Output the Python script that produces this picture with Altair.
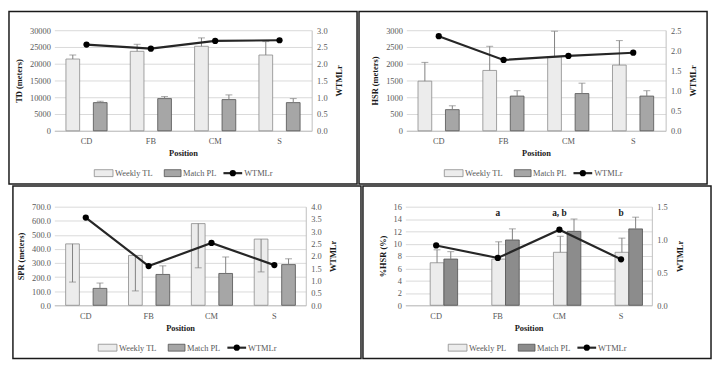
import altair as alt
import pandas as pd

positions = ["CD", "FB", "CM", "S"]

# Panel 1: TD
td_weekly = [21400, 23700, 25200, 22600]
td_weekly_err = [22600, 25800, 27700, 26600]
td_match = [8400, 9600, 9300, 8400]
td_match_err = [8800, 10200, 10700, 9600]
td_ratio = [2.57, 2.45, 2.68, 2.70]

# Panel 2: HSR
hsr_weekly = [1480, 1800, 2210, 1960]
hsr_weekly_err = [2040, 2520, 2970, 2690]
hsr_match = [630, 1035, 1110, 1035]
hsr_match_err = [745, 1195, 1420, 1195]
hsr_ratio = [2.35, 1.76, 1.86, 1.94]

# Panel 3: SPR
spr_weekly = [436, 354, 580, 470]
spr_weekly_err = [165, 102, 266, 237]
spr_match = [120, 219, 226, 289]
spr_match_err = [158, 280, 343, 330]
spr_ratio = [3.56, 1.59, 2.53, 1.63]

# Panel 4: %HSR
phsr_weekly = [6.9, 7.5, 8.6, 8.6]
phsr_weekly_err = [9.0, 10.3, 11.2, 10.9]
phsr_match = [7.5, 10.6, 12.0, 12.4]
phsr_match_err = [8.7, 12.4, 14.0, 14.3]
phsr_ratio = [0.91, 0.72, 1.15, 0.70]

sig_positions = ["FB", "CM", "S"]
sig_labels = ["a", "a, b", "b"]
sig_y = [15, 15, 15]

FONT = "Liberation Serif, Times New Roman, serif"
FS = 8.5
WEEK_FILL = "#ececec"
WEEK_STROKE = "#8a8a8a"
MATCH_STROKE = "#505050"

dummy = pd.DataFrame({"k": [0]})


def panel(weekly, weekly_err, match, match_err, ratio, weekly_name, left_title,
          left_ticks, left_fmt, right_ticks, dims, match_fill, annot=None):
    L, W, R, T, H, B = dims
    rows = []
    for i, p in enumerate(positions):
        rows.append({"Position": p, "Series": weekly_name, "Value": weekly[i],
                     "Err": weekly_err[i], "fill": WEEK_FILL, "stroke": WEEK_STROKE})
        rows.append({"Position": p, "Series": "Match PL", "Value": match[i],
                     "Err": match_err[i], "fill": match_fill, "stroke": MATCH_STROKE})
    bars_df = pd.DataFrame(rows)
    line_df = pd.DataFrame({"Position": positions, "WTMLr": ratio})

    x = alt.X("Position:N", sort=positions,
              scale=alt.Scale(paddingInner=0.36, paddingOuter=0.18),
              axis=alt.Axis(title="Position", labelAngle=0, ticks=False,
                            domainColor="#bfbfbf", labelPadding=6, titlePadding=4,
                            titleFontWeight="bold"))
    xo = alt.XOffset("Series:N", sort=[weekly_name, "Match PL"],
                     scale=alt.Scale(paddingInner=0, paddingOuter=0))
    lscale = alt.Scale(domain=[left_ticks[0], left_ticks[-1]], nice=False)
    laxis = alt.Axis(title=left_title, values=left_ticks, format=left_fmt, grid=True,
                     gridColor="#d9d9d9", domain=False, ticks=False, labelPadding=4,
                     titleFontWeight="bold", titlePadding=6)
    rscale = alt.Scale(domain=[right_ticks[0], right_ticks[-1]], nice=False)
    raxis = alt.Axis(title="WTMLr", orient="right", values=right_ticks, format=".1f",
                     grid=False, domain=True, domainColor="#bfbfbf", ticks=False,
                     labelPadding=5, titleFontWeight="bold", titleAngle=270,
                     titleBaseline="top", titlePadding=8)

    bars = alt.Chart(bars_df).mark_bar(strokeWidth=0.8).encode(
        x=x, xOffset=xo,
        y=alt.Y("Value:Q", scale=lscale, axis=laxis),
        fill=alt.Fill("fill:N", scale=None),
        stroke=alt.Stroke("stroke:N", scale=None),
    )
    rules = alt.Chart(bars_df).mark_rule(color="#808080", strokeWidth=1).encode(
        x=x, xOffset=xo,
        y=alt.Y("Value:Q", scale=lscale, axis=laxis),
        y2="Err:Q",
    )
    caps = alt.Chart(bars_df).mark_tick(color="#808080", thickness=1, size=7).encode(
        x=x, xOffset=xo,
        y=alt.Y("Err:Q", scale=lscale, axis=laxis),
    )
    left_layers = [bars, rules, caps]
    if annot is not None:
        ann_df = pd.DataFrame({"Position": annot[0], "label": annot[1], "ay": annot[2]})
        left_layers.append(
            alt.Chart(ann_df).mark_text(fontWeight="bold", fontSize=9.5, color="#1a1a1a").encode(
                x=x, y=alt.Y("ay:Q", scale=lscale, axis=laxis), text="label:N"))
    left = alt.layer(*left_layers)

    line = alt.Chart(line_df).mark_line(color="#262626", strokeWidth=2.2).encode(
        x=x, y=alt.Y("WTMLr:Q", scale=rscale, axis=raxis))
    pts = alt.Chart(line_df).mark_point(filled=True, color="#000000", size=40, opacity=1).encode(
        x=x, y=alt.Y("WTMLr:Q", scale=rscale, axis=raxis))
    right = alt.layer(line, pts)

    # frame
    frame = alt.Chart(dummy).mark_rect(fillOpacity=0, stroke="#1a1a1a", strokeWidth=1.5).encode(
        x=alt.value(-L), x2=alt.value(W + R), y=alt.value(-T), y2=alt.value(H + B))

    # legend
    cx = -L + (L + W + R) / 2
    ly = -T + 164
    deco = [frame]
    deco.append(alt.Chart(dummy).mark_rect(fill=WEEK_FILL, stroke=WEEK_STROKE, strokeWidth=0.8).encode(
        x=alt.value(cx - 90), x2=alt.value(cx - 71), y=alt.value(ly - 3.5), y2=alt.value(ly + 3.5)))
    deco.append(alt.Chart(dummy).mark_text(align="left", baseline="middle", fontSize=FS, color="#595959").encode(
        x=alt.value(cx - 69), y=alt.value(ly), text=alt.value(weekly_name)))
    deco.append(alt.Chart(dummy).mark_rect(fill=match_fill, stroke=MATCH_STROKE, strokeWidth=0.8).encode(
        x=alt.value(cx - 19), x2=alt.value(cx - 2), y=alt.value(ly - 3.5), y2=alt.value(ly + 3.5)))
    deco.append(alt.Chart(dummy).mark_text(align="left", baseline="middle", fontSize=FS, color="#595959").encode(
        x=alt.value(cx), y=alt.value(ly), text=alt.value("Match PL")))
    deco.append(alt.Chart(dummy).mark_rule(color="#262626", strokeWidth=2.2).encode(
        x=alt.value(cx + 41), x2=alt.value(cx + 60), y=alt.value(ly)))
    deco.append(alt.Chart(dummy).mark_point(filled=True, color="#000000", size=40, opacity=1).encode(
        x=alt.value(cx + 50.5), y=alt.value(ly)))
    deco.append(alt.Chart(dummy).mark_text(align="left", baseline="middle", fontSize=FS, color="#595959").encode(
        x=alt.value(cx + 62), y=alt.value(ly), text=alt.value("WTMLr")))

    return alt.layer(left, right, *deco).resolve_scale(y="independent").properties(width=W, height=H)


p1 = panel(td_weekly, td_weekly_err, td_match, td_match_err, td_ratio, "Weekly TL",
           "TD (meters)", [0, 5000, 10000, 15000, 20000, 25000, 30000], "d",
           [0, 0.5, 1.0, 1.5, 2.0, 2.5, 3.0], (46, 261, 46, 19, 102, 54), "#a6a6a6")
p2 = panel(hsr_weekly, hsr_weekly_err, hsr_match, hsr_match_err, hsr_ratio, "Weekly TL",
           "HSR (meters)", [0, 500, 1000, 1500, 2000, 2500, 3000], "d",
           [0, 0.5, 1.0, 1.5, 2.0, 2.5], (48, 263, 42, 19, 102, 54), "#a6a6a6")
p3 = panel(spr_weekly, spr_weekly_err, spr_match, spr_match_err, spr_ratio, "Weekly TL",
           "SPR (meters)", [0, 100, 200, 300, 400, 500, 600, 700], ".1f",
           [0, 0.5, 1.0, 1.5, 2.0, 2.5, 3.0, 3.5, 4.0], (42, 255, 56, 21, 100, 54), "#a6a6a6")
p4 = panel(phsr_weekly, phsr_weekly_err, phsr_match, phsr_match_err, phsr_ratio, "Weekly PL",
           "%HSR (%)", [0, 2, 4, 6, 8, 10, 12, 14, 16], "d",
           [0, 0.5, 1.0, 1.5], (43, 250, 60, 21, 100, 54), "#8c8c8c",
           annot=(sig_positions, sig_labels, sig_y))

chart = alt.vconcat(
    alt.hconcat(p1, p2, spacing=0),
    alt.hconcat(p3, p4, spacing=0),
    spacing=0,
).properties(padding=0).configure(font=FONT).configure_view(strokeWidth=0).configure_axis(
    labelFont=FONT, titleFont=FONT, labelFontSize=FS, titleFontSize=FS,
    labelColor="#595959", titleColor="#1a1a1a",
).configure_text(font=FONT)

chart.save("out.html", embed_options={"renderer": "svg", "actions": False})
